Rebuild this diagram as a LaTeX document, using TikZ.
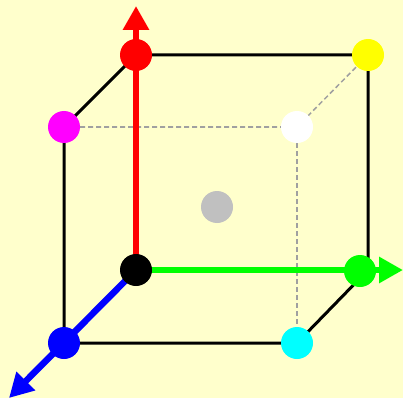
\documentclass[tikz,border=0pt]{standalone}
\usetikzlibrary{arrows.meta}
\definecolor{bgyellow}{HTML}{FFFFCC}
\definecolor{hidden}{HTML}{A0A0A0}
\definecolor{pmagenta}{HTML}{FF00FF}
\definecolor{pcyan}{HTML}{00FFFF}
\definecolor{pgreen}{HTML}{00FF00}
\definecolor{pyellow}{HTML}{FFFF00}
\definecolor{pgray}{HTML}{C0C0C0}

\begin{document}
\begin{tikzpicture}[
    x=1pt, y=-1pt,
    dot/.style={circle, inner sep=0pt, minimum size=32pt, fill=#1},
    edge/.style={line width=3pt, black},
    back/.style={line width=1.5pt, hidden, dash pattern=on 5pt off 3pt},
    axis/.style={line width=6.5pt, draw=#1, -{Triangle[length=24pt,width=25pt]}}
  ]
    \fill[bgyellow] (0,0) rectangle (403,398);
    \useasboundingbox (0,0) rectangle (403,398);

    % corners of the cube
    \coordinate (k)  at (136,270);
    \coordinate (gc) at (368,270);
    \coordinate (r)  at (136,55);
    \coordinate (ye) at (368,55);
    \coordinate (m)  at (64,127);
    \coordinate (w)  at (297,127);
    \coordinate (b)  at (64,343);
    \coordinate (c)  at (297,343);

    % axis ends
    \coordinate (rt) at (136,6);
    \coordinate (gt) at (403,270);
    \coordinate (bt) at (9,398);

    % hidden edges
    \draw[back] (m) -- (w) -- (ye);
    \draw[back] (w) -- (c);

    % visible edges
    \draw[edge] (b) -- (m) -- (r) -- (ye) -- (gc) -- (c) -- cycle;

    % axes
    \draw[axis=red]    (k) -- (rt);
    \draw[axis=pgreen] (k) -- (gt);
    \draw[axis=blue]   (k) -- (bt);

    % colour dots
    \node[dot=red]      (nr) at (r)  {};
    \node[dot=pyellow]  (ny) at (ye) {};
    \node[dot=pmagenta] (nm) at (m)  {};
    \node[dot=white]    (nw) at (w)  {};
    \node[dot=pgray]    (ng) at (217,207) {};
    \node[dot=black]    (nk) at (k)  {};
    \node[dot=pgreen]   (nn) at (360,271) {};
    \node[dot=blue]     (nb) at (b)  {};
    \node[dot=pcyan]    (nc) at (c)  {};
\end{tikzpicture}
\end{document}
